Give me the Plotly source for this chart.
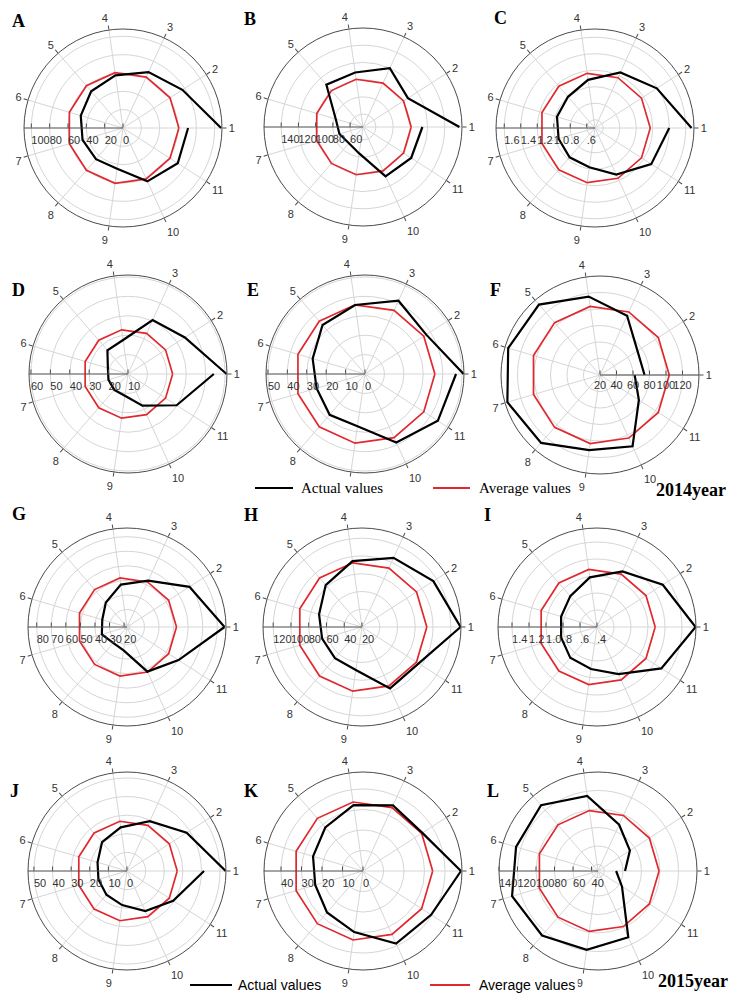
import plotly.graph_objects as go

W, H = 731, 996

# ---- data (12 monthly values; month 12 returns to the angle of month 1) ----
months = list(range(1, 13))
angle_labels = [str(m) for m in range(1, 12)]

A_actual = [107, 77, 67, 58, 53, 48, 46, 45, 45, 64, 71, 71]
A_avg = 61
B_actual = [157, 107, 120, 109, 110, 78, 73.5, 70, 76, 108, 111.5, 114]
B_avg = 101
C_actual = [1.67, 1.39, 1.24, 1.09, 1.00, 0.98, 0.96, 0.97, 0.98, 1.12, 1.31, 1.40]
C_avg = 1.17
D_actual = [60.8, 44.8, 40.5, 27.7, 26.2, 20.8, 20.5, 20.8, 21.3, 27.9, 39.8, 54.2]
D_avg = 33
E_actual = [50.8, 37.5, 41.5, 35.9, 33.4, 28.1, 26, 27.8, 27.2, 38.8, 44.6, 46.9]
E_avg = 36
F_actual = [74, 74, 99, 116, 133, 136, 137, 129, 112, 115, 76, 62]
F_avg = 104
G_actual = [85, 69, 53, 47.4, 40.2, 35.7, 36, 32.5, 34.2, 51.7, 60.1, 85]
G_avg = 52
H_actual = [131, 115.5, 105.6, 95, 82.4, 70.4, 66.8, 66.5, 68.9, 96, 95.9, 131]
H_avg = 93
I_actual = [1.56, 1.32, 1.12, 0.99, 0.88, 0.84, 0.84, 0.88, 0.90, 1.01, 1.30, 1.56]
I_avg = 1.085
J_actual = [53, 38.1, 29.4, 23.7, 20.5, 16.5, 16, 16.9, 18.5, 23.7, 29.5, 41.4]
J_avg = 27
K_actual = [47.8, 34.4, 35.2, 32.5, 28.1, 25.4, 24.3, 26.8, 30.1, 38.9, 39.5, 47.8]
K_avg = 34
L_actual = [62.2, 74, 88, 115, 127, 125.3, 129.8, 125.3, 119, 111.8, 63.8, 52.6]
L_avg = 99

# radial tick values / labels per panel
A_ticks = [0, 20, 40, 60, 80, 100]
B_ticks = [60, 80, 100, 120, 140]
C_ticks = [0.6, 0.8, 1.0, 1.2, 1.4, 1.6]
C_ticktext = [".6", ".8", "1.0", "1.2", "1.4", "1.6"]
D_ticks = [10, 20, 30, 40, 50, 60]
E_ticks = [0, 10, 20, 30, 40, 50]
F_ticks = [20, 40, 60, 80, 100, 120]
G_ticks = [20, 30, 40, 50, 60, 70, 80]
H_ticks = [20, 40, 60, 80, 100, 120]
I_ticks = [0.4, 0.6, 0.8, 1.0, 1.2, 1.4]
I_ticktext = [".4", ".6", ".8", "1.0", "1.2", "1.4"]
J_ticks = [0, 10, 20, 30, 40, 50]
K_ticks = [0, 10, 20, 30, 40]
L_ticks = [40, 60, 80, 100, 120, 140]

# angle of each month: 12 months spread over 11 intervals (0..360 deg)
theta = [(m - 1) * 360 / 11 for m in months]
theta_ticks = theta[:11]

panels = [
    # letter, actual, avg, range, ticks, ticktext, axis angle, centre(px)
    ("A", A_actual, A_avg, [0, 108], A_ticks, None, 180, (123, 128)),
    ("B", B_actual, B_avg, [45, 160], B_ticks, None, 180, (363, 127)),
    ("C", C_actual, C_avg, [0.5, 1.7], C_ticks, C_ticktext, 180, (595, 128)),
    ("D", D_actual, D_avg, [10, 61], D_ticks, None, 180, (128, 374)),
    ("E", E_actual, E_avg, [0, 51], E_ticks, None, 180, (365, 374)),
    ("F", F_actual, F_avg, [20, 140], F_ticks, None, 0, (600, 375)),
    ("G", G_actual, G_avg, [18, 86], G_ticks, None, 180, (127, 627)),
    ("H", H_actual, H_avg, [20, 131.5], H_ticks, None, 180, (362, 627)),
    ("I", I_actual, I_avg, [0.4, 1.565], I_ticks, I_ticktext, 180, (597, 627)),
    ("J", J_actual, J_avg, [0, 53.2], J_ticks, None, 180, (127, 871)),
    ("K", K_actual, K_avg, [0, 48.3], K_ticks, None, 180, (363, 871)),
    ("L", L_actual, L_avg, [33, 140], L_ticks, None, 180, (598, 871)),
]

letter_pos = {
    "A": (10, 21), "B": (242, 19), "C": (492, 18),
    "D": (10, 290), "E": (245, 290), "F": (488, 290),
    "G": (10, 514), "H": (242, 515), "I": (482, 515),
    "J": (8, 791), "K": (242, 791), "L": (485, 791),
}

R = 99
SANS = "Liberation Sans, Arial, sans-serif"
SERIF = "Liberation Serif, Times New Roman, serif"
RED = "#e0282e"
GRID = "#d6d6d6"
AXIS = "#4a4a4a"

fig = go.Figure()
layout = {}
annotations = []
shapes = []

def px(x):
    return x / W

def py(y):
    return 1 - y / H

for i, (letter, actual, avg, rng, ticks, ticktext, ax_angle, (cx, cy)) in enumerate(panels):
    key = "polar" if i == 0 else f"polar{i+1}"
    fig.add_trace(go.Scatterpolar(
        r=[avg] * len(months), theta=theta, mode="lines",
        line=dict(color=RED, width=1.7), subplot=key, showlegend=False,
        hoverinfo="skip"))
    fig.add_trace(go.Scatterpolar(
        r=actual, theta=theta, mode="lines",
        line=dict(color="black", width=2.2), subplot=key, showlegend=False))
    layout[key] = dict(
        domain=dict(x=[px(cx - R), px(cx + R)], y=[py(cy + R), py(cy - R)]),
        bgcolor="white",
        angularaxis=dict(
            type="linear", thetaunit="degrees", rotation=0,
            direction="counterclockwise",
            tickmode="array", tickvals=theta_ticks, ticktext=angle_labels,
            ticks="outside", ticklen=4, tickcolor=AXIS,
            showline=True, linecolor=AXIS, linewidth=1,
            showgrid=True, gridcolor=GRID, gridwidth=1,
            tickfont=dict(family=SANS, size=11, color="#333"),
        ),
        radialaxis=dict(
            range=rng, tickmode="array", tickvals=ticks,
            ticktext=ticktext if ticktext else [str(t) for t in ticks],
            angle=ax_angle,
            side="counterclockwise" if ax_angle == 180 else "clockwise",
            tickangle=180 if ax_angle == 180 else 0,
            showline=True, linecolor=AXIS, linewidth=1,
            ticks="inside", ticklen=4, tickcolor=AXIS,
            showgrid=True, gridcolor=GRID, gridwidth=1,
            tickfont=dict(family=SANS, size=11, color="#333"),
        ),
    )
    lx, ly = letter_pos[letter]
    annotations.append(dict(
        text=f"<b>{letter}</b>", x=px(lx), y=py(ly), xref="paper", yref="paper",
        xanchor="left", yanchor="middle", showarrow=False,
        font=dict(family=SERIF, size=18, color="black")))

# legends and year labels (legend texts sit on a white box, like a legend)
def legend_row(y, bx0, bx1, tx1, rx0, rx1, tx2, fam, size):
    shapes.append(dict(type="line", xref="paper", yref="paper",
                       x0=px(bx0), x1=px(bx1), y0=py(y), y1=py(y),
                       line=dict(color="black", width=2)))
    shapes.append(dict(type="line", xref="paper", yref="paper",
                       x0=px(rx0), x1=px(rx1), y0=py(y), y1=py(y),
                       line=dict(color=RED, width=2)))
    annotations.append(dict(text="Actual values", x=px(tx1), y=py(y),
                            xref="paper", yref="paper", xanchor="left",
                            yanchor="middle", showarrow=False,
                            bgcolor="white", borderpad=2,
                            font=dict(family=fam, size=size, color="black")))
    annotations.append(dict(text="Average values", x=px(tx2), y=py(y),
                            xref="paper", yref="paper", xanchor="left",
                            yanchor="middle", showarrow=False,
                            bgcolor="white", borderpad=2,
                            font=dict(family=fam, size=size, color="black")))

legend_row(488, 255, 293, 298, 433, 470, 476, SERIF, 15)
legend_row(985, 190, 232, 235, 430, 470, 476, SANS, 14)

annotations.append(dict(text="<b>2014year</b>", x=px(691), y=py(490),
                        xref="paper", yref="paper", xanchor="center",
                        yanchor="middle", showarrow=False,
                        font=dict(family=SERIF, size=18, color="black")))
annotations.append(dict(text="<b>2015year</b>", x=px(693), y=py(981),
                        xref="paper", yref="paper", xanchor="center",
                        yanchor="middle", showarrow=False,
                        font=dict(family=SERIF, size=18, color="black")))

fig.update_layout(
    width=W, height=H, margin=dict(l=0, r=0, t=0, b=0),
    paper_bgcolor="white", plot_bgcolor="white", showlegend=False,
    annotations=annotations, shapes=shapes, **layout)

fig.write_html("out.html",
               config={"displayModeBar": False},
               post_script="document.body.style.margin='0px';"
                           "document.body.style.overflow='hidden';")
